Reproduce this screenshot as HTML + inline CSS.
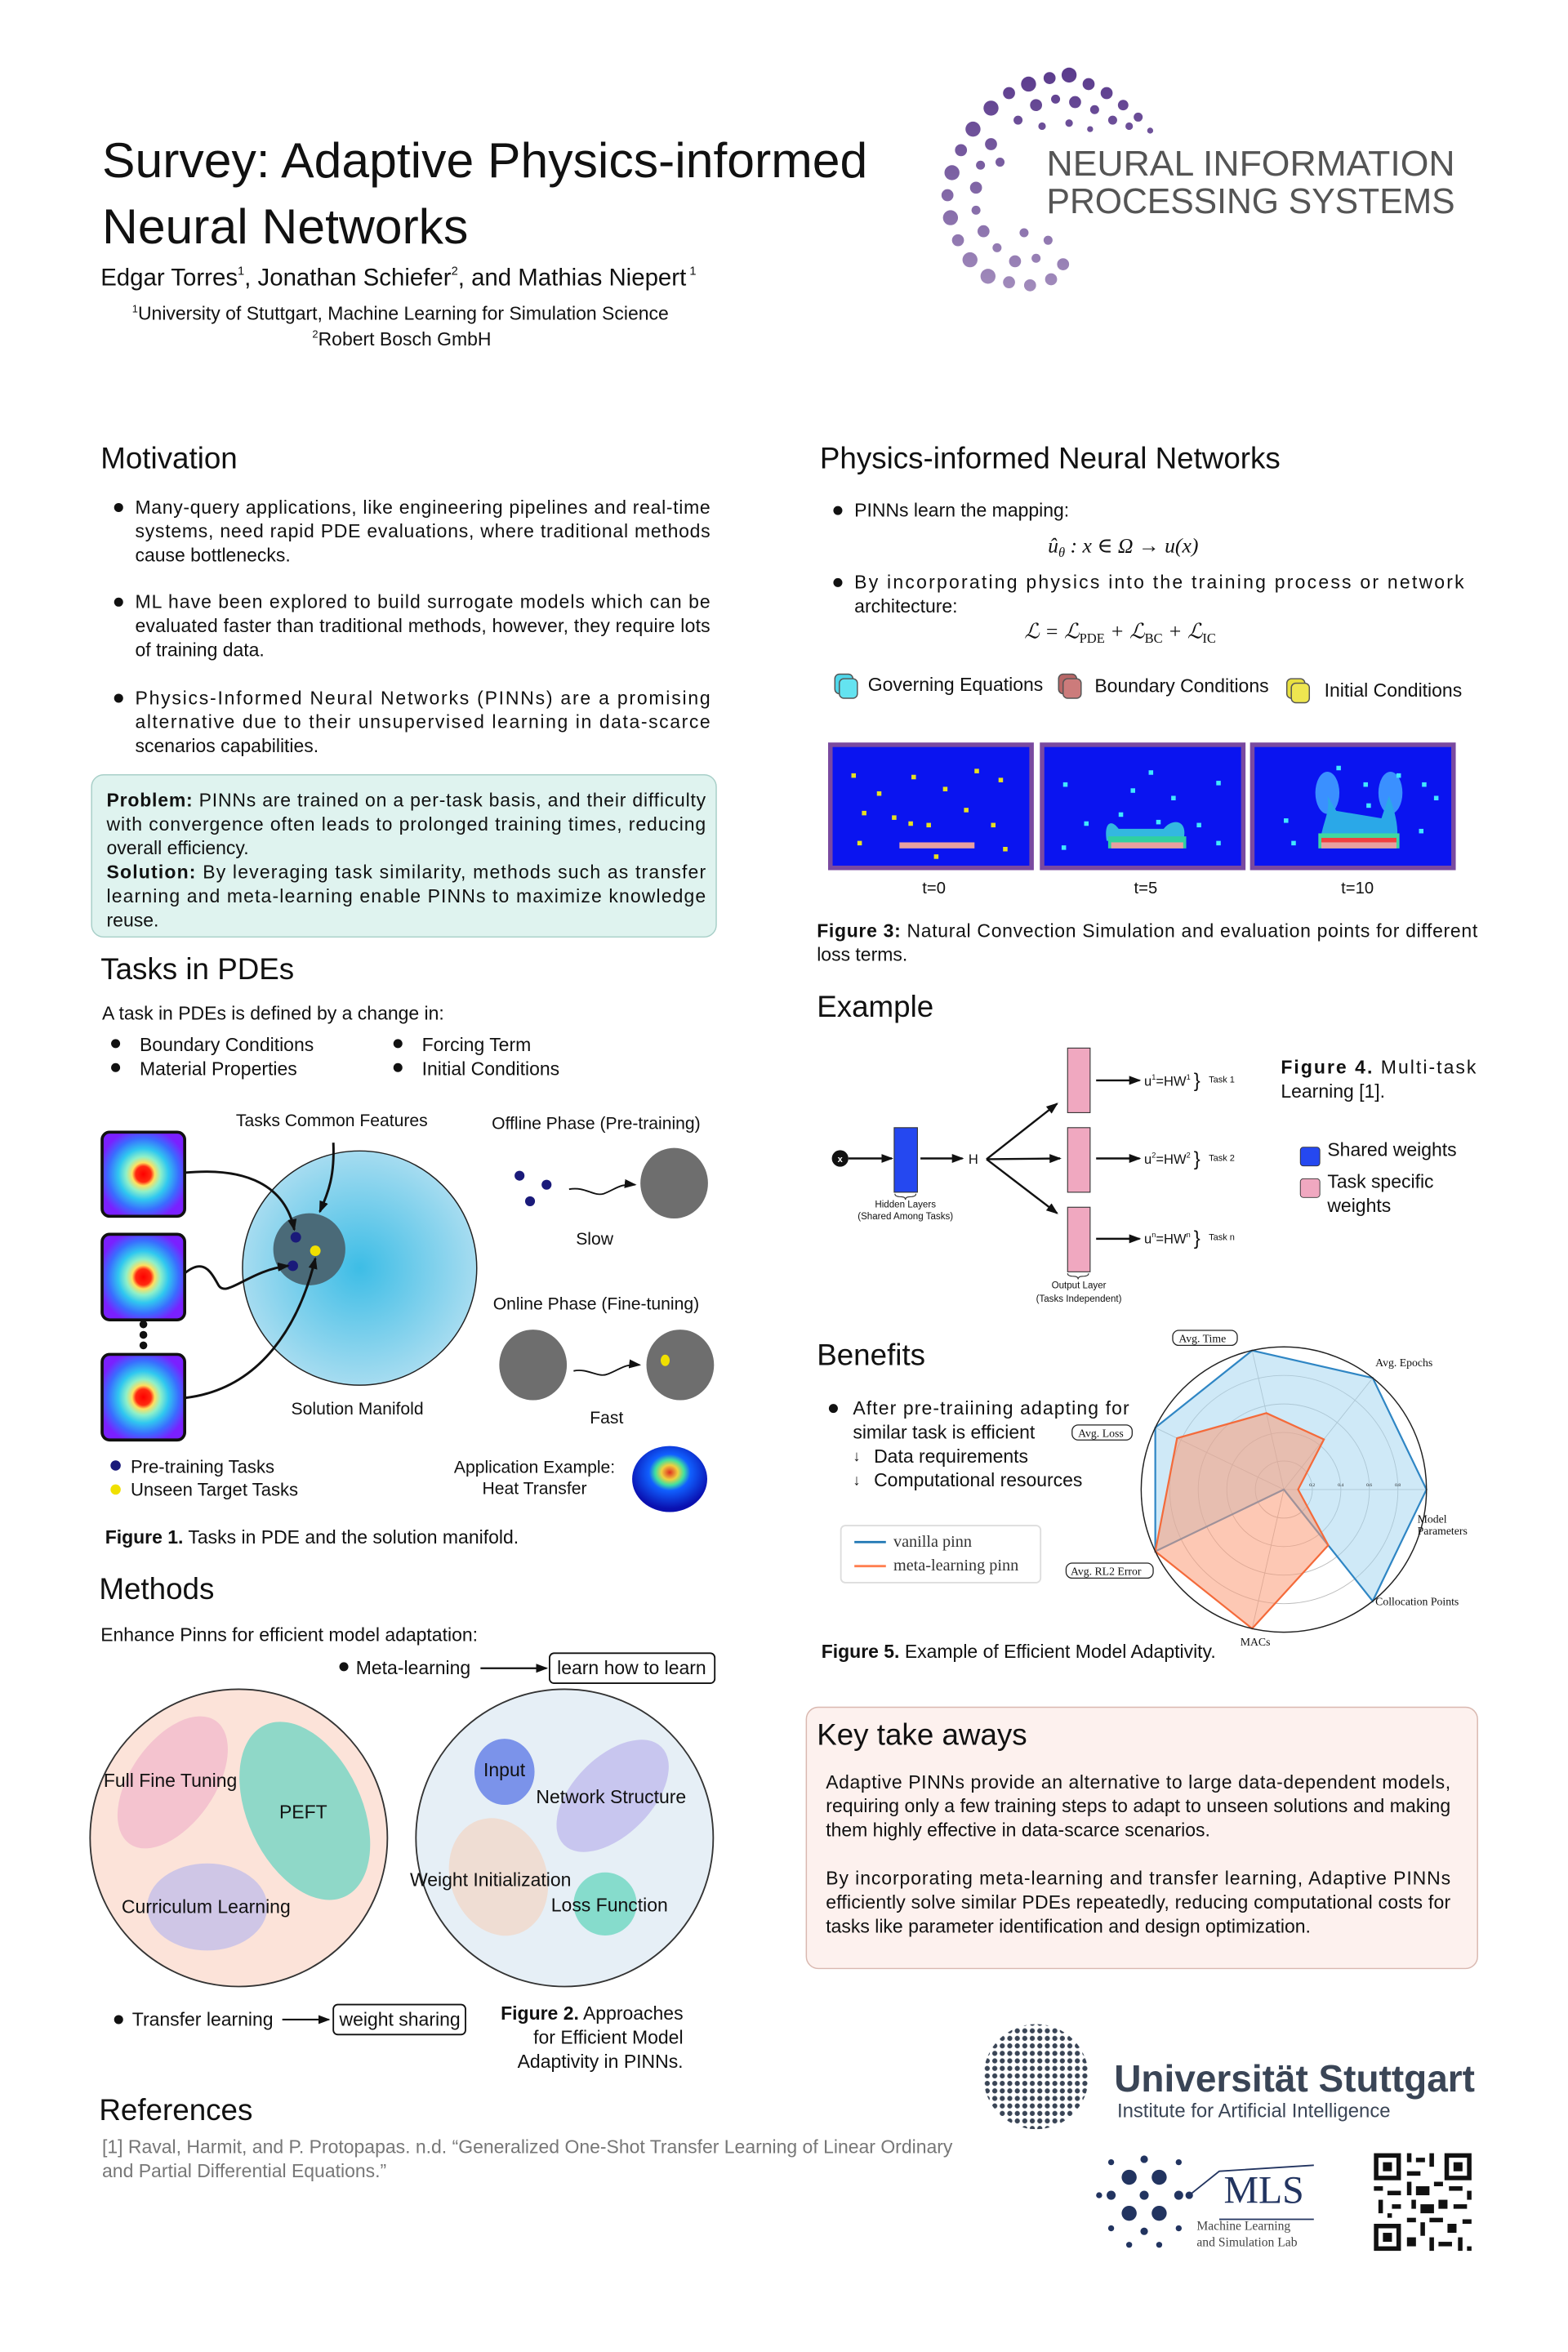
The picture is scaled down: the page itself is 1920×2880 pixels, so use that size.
<!DOCTYPE html>
<html><head><meta charset="utf-8"><style>
html,body{margin:0;padding:0;background:#fff}
svg{display:block}
text{font-family:"Liberation Sans",Arial,sans-serif;fill:#111}
.s{font-family:"Liberation Serif","DejaVu Serif",serif}
</style></head><body>
<svg width="1920" height="2880" viewBox="0 0 1050 1575" preserveAspectRatio="none" xmlns="http://www.w3.org/2000/svg">
<defs>
<radialGradient id="heat" cx="50%" cy="50%" r="55%">
<stop offset="0" stop-color="#ff0000"/><stop offset="0.17" stop-color="#ff2a10"/><stop offset="0.25" stop-color="#ffe060"/><stop offset="0.38" stop-color="#8ff0c8"/><stop offset="0.55" stop-color="#30c8f0"/><stop offset="0.78" stop-color="#3a6cff"/><stop offset="1" stop-color="#7a20ff"/>
</radialGradient>
<radialGradient id="man" cx="50%" cy="50%" r="50%">
<stop offset="0" stop-color="#3dbde6"/><stop offset="1" stop-color="#a6dcf0"/>
</radialGradient>
<radialGradient id="blob" cx="50%" cy="40%" r="55%">
<stop offset="0" stop-color="#e03020"/><stop offset="0.2" stop-color="#f0d040"/><stop offset="0.35" stop-color="#40e0a0"/><stop offset="0.5" stop-color="#1060ff"/><stop offset="1" stop-color="#0a10b0"/>
</radialGradient>
<linearGradient id="ng" x1="0" y1="45" x2="0" y2="195" gradientUnits="userSpaceOnUse">
<stop offset="0" stop-color="#5a3a8c"/><stop offset="1" stop-color="#a28cbc"/>
</linearGradient>
<pattern id="udots" x="0" y="0" width="5" height="5" patternUnits="userSpaceOnUse">
<circle cx="2.5" cy="2.5" r="1.7" fill="#3a4556"/>
</pattern>
<marker id="ah" markerWidth="8" markerHeight="8" refX="7" refY="4" orient="auto" markerUnits="userSpaceOnUse"><path d="M0,1 L8,4 L0,7 z" fill="#111"/></marker>
</defs>
<g transform="scale(1.0055)">
<!-- Title -->
<text x="68" y="118" font-size="33">Survey: Adaptive Physics-informed</text>
<text x="68" y="162" font-size="33">Neural Networks</text>
<text x="67" y="190" font-size="16">Edgar Torres<tspan font-size="8" dy="-7">1</tspan><tspan dy="7">, Jonathan Schiefer</tspan><tspan font-size="8" dy="-7">2</tspan><tspan dy="7">, and Mathias Niepert</tspan><tspan font-size="8" dy="-7"> 1</tspan></text>
<text x="88" y="213" font-size="12.5"><tspan font-size="7" dy="-5">1</tspan><tspan dy="5">University of Stuttgart, Machine Learning for Simulation Science</tspan></text>
<text x="208" y="230" font-size="12.5"><tspan font-size="7" dy="-5">2</tspan><tspan dy="5">Robert Bosch GmbH</tspan></text>

<!-- NeurIPS logo -->
<g fill="url(#ng)">
<circle cx="660" cy="72" r="5"/><circle cx="672" cy="62" r="4"/><circle cx="685" cy="56" r="5"/><circle cx="699" cy="52" r="4"/><circle cx="712" cy="50" r="5"/><circle cx="725" cy="56" r="4"/><circle cx="737" cy="62" r="4"/><circle cx="748" cy="70" r="3.5"/><circle cx="758" cy="78" r="3"/><circle cx="766" cy="87" r="2"/>
<circle cx="690" cy="70" r="4"/><circle cx="703" cy="66" r="3"/><circle cx="716" cy="68" r="4"/><circle cx="729" cy="73" r="3"/><circle cx="741" cy="80" r="3"/><circle cx="752" cy="84" r="2.5"/><circle cx="678" cy="80" r="3"/><circle cx="694" cy="84" r="2.5"/><circle cx="712" cy="82" r="2.5"/><circle cx="726" cy="86" r="2"/>
<circle cx="648" cy="86" r="5"/><circle cx="640" cy="100" r="4"/><circle cx="634" cy="115" r="5"/><circle cx="631" cy="130" r="4"/><circle cx="633" cy="145" r="5"/><circle cx="638" cy="160" r="4"/><circle cx="646" cy="173" r="5"/>
<circle cx="660" cy="96" r="4"/><circle cx="653" cy="110" r="3"/><circle cx="650" cy="125" r="4"/><circle cx="650" cy="140" r="3"/><circle cx="655" cy="154" r="4"/><circle cx="666" cy="108" r="3"/><circle cx="664" cy="165" r="3"/>
<circle cx="658" cy="184" r="5"/><circle cx="672" cy="188" r="4"/><circle cx="686" cy="190" r="4"/><circle cx="700" cy="186" r="4"/><circle cx="708" cy="176" r="4"/><circle cx="676" cy="174" r="4"/><circle cx="690" cy="172" r="3"/><circle cx="698" cy="160" r="3"/><circle cx="682" cy="155" r="3"/>
</g>
<text x="697" y="117" font-size="23.5" textLength="272" lengthAdjust="spacingAndGlyphs" style="fill:#555">NEURAL INFORMATION</text>
<text x="697" y="142" font-size="23.5" textLength="272" lengthAdjust="spacingAndGlyphs" style="fill:#555">PROCESSING SYSTEMS</text>

<!-- Motivation -->
<text x="67" y="312" font-size="20">Motivation</text>
<g font-size="12.5">
<circle cx="79" cy="338" r="3" fill="#111"/>
<text x="90" y="342" textLength="383" lengthAdjust="spacing">Many-query applications, like engineering pipelines and real-time</text>
<text x="90" y="358" textLength="383" lengthAdjust="spacing">systems, need rapid PDE evaluations, where traditional methods</text>
<text x="90" y="374">cause bottlenecks.</text>
<circle cx="79" cy="401" r="3" fill="#111"/>
<text x="90" y="405" textLength="383" lengthAdjust="spacing">ML have been explored to build surrogate models which can be</text>
<text x="90" y="421" textLength="383" lengthAdjust="spacing">evaluated faster than traditional methods, however, they require lots</text>
<text x="90" y="437">of training data.</text>
<circle cx="79" cy="465" r="3" fill="#111"/>
<text x="90" y="469" textLength="383" lengthAdjust="spacing">Physics-Informed Neural Networks (PINNs) are a promising</text>
<text x="90" y="485" textLength="383" lengthAdjust="spacing">alternative due to their unsupervised learning in data-scarce</text>
<text x="90" y="501">scenarios capabilities.</text>
</g>
<rect x="61" y="516" width="416" height="108" rx="8" fill="#dff3ef" stroke="#a8cfc8" stroke-width="0.8"/>
<g font-size="12.5">
<text x="71" y="537" textLength="399" lengthAdjust="spacing"><tspan font-weight="bold">Problem:</tspan> PINNs are trained on a per-task basis, and their difficulty</text>
<text x="71" y="553" textLength="399" lengthAdjust="spacing">with convergence often leads to prolonged training times, reducing</text>
<text x="71" y="569">overall efficiency.</text>
<text x="71" y="585" textLength="399" lengthAdjust="spacing"><tspan font-weight="bold">Solution:</tspan> By leveraging task similarity, methods such as transfer</text>
<text x="71" y="601" textLength="399" lengthAdjust="spacing">learning and meta-learning enable PINNs to maximize knowledge</text>
<text x="71" y="617">reuse.</text>
</g>

<!-- Tasks in PDEs -->
<text x="67" y="652" font-size="20">Tasks in PDEs</text>
<g font-size="12.5">
<text x="68" y="679">A task in PDEs is defined by a change in:</text>
<circle cx="77" cy="695" r="3" fill="#111"/><text x="93" y="700">Boundary Conditions</text>
<circle cx="77" cy="711" r="3" fill="#111"/><text x="93" y="716">Material Properties</text>
<circle cx="265" cy="695" r="3" fill="#111"/><text x="281" y="700">Forcing Term</text>
<circle cx="265" cy="711" r="3" fill="#111"/><text x="281" y="716">Initial Conditions</text>
</g>

<!-- Figure 1 -->
<rect x="68" y="754" width="55" height="56" rx="5" fill="url(#heat)" stroke="#111" stroke-width="2"/>
<rect x="68" y="822" width="55" height="57" rx="5" fill="url(#heat)" stroke="#111" stroke-width="2"/>
<rect x="68" y="902" width="55" height="57" rx="5" fill="url(#heat)" stroke="#111" stroke-width="2"/>
<circle cx="95.5" cy="882" r="2.6" fill="#111"/><circle cx="95.5" cy="889" r="2.6" fill="#111"/><circle cx="95.5" cy="896" r="2.6" fill="#111"/>
<ellipse cx="239.5" cy="844.5" rx="78" ry="78" fill="url(#man)" stroke="#222" stroke-width="0.8"/>
<circle cx="206" cy="832" r="24" fill="#4a6a78"/>
<circle cx="197" cy="824" r="3.5" fill="#1a1a7a"/>
<circle cx="195" cy="843" r="3.5" fill="#1a1a7a"/>
<circle cx="210" cy="833" r="3.5" fill="#f0e000"/>
<g fill="none" stroke="#111" stroke-width="1.6" marker-end="url(#ah)">
<path d="M123,781 C165,777 190,790 196,819"/>
<path d="M123,848 C135,838 140,846 145,855 C150,866 165,846 192,843"/>
<path d="M123,931 C175,925 200,880 210,838"/>
<path d="M222,761 C223,785 218,795 213,807"/>
</g>
<g font-size="11.5" text-anchor="middle">
<text x="221" y="750">Tasks Common Features</text>
<text x="397" y="752">Offline Phase (Pre-training)</text>
<text x="397" y="872">Online Phase (Fine-tuning)</text>
<text x="396" y="829">Slow</text>
<text x="404" y="948">Fast</text>
<text x="238" y="942">Solution Manifold</text>
<text x="356" y="981">Application Example:</text>
<text x="356" y="995">Heat Transfer</text>
</g>
<circle cx="346" cy="783" r="3.3" fill="#1a1a7a"/><circle cx="364" cy="789" r="3.3" fill="#1a1a7a"/><circle cx="353" cy="800" r="3.3" fill="#1a1a7a"/>
<ellipse cx="449" cy="788" rx="22.5" ry="23.5" fill="#6e6e6e"/>
<path d="M379,792 C390,790 395,797 402,795 C410,792 413,788 423,789" fill="none" stroke="#111" stroke-width="1" marker-end="url(#ah)"/>
<ellipse cx="355" cy="909" rx="22.5" ry="23.5" fill="#6e6e6e"/>
<ellipse cx="453" cy="909" rx="22.5" ry="23.5" fill="#6e6e6e"/>
<ellipse cx="443" cy="906" rx="3" ry="3.8" fill="#f0e000"/>
<path d="M382,913 C392,911 398,918 405,915 C413,912 416,908 426,909" fill="none" stroke="#111" stroke-width="1" marker-end="url(#ah)"/>
<ellipse cx="446" cy="985" rx="25" ry="22" fill="url(#blob)"/>
<circle cx="77" cy="976" r="3.4" fill="#1a1a7a"/><circle cx="77" cy="992" r="3.4" fill="#f0e000"/>
<text x="87" y="981" font-size="12">Pre-training Tasks</text>
<text x="87" y="996" font-size="12">Unseen Target Tasks</text>
<text x="70" y="1028" font-size="12.5"><tspan font-weight="bold">Figure 1.</tspan> Tasks in PDE and the solution manifold.</text>

<!-- Methods -->
<text x="66" y="1065" font-size="20">Methods</text>
<text x="67" y="1093" font-size="12.5">Enhance Pinns for efficient model adaptation:</text>
<circle cx="229" cy="1110" r="3" fill="#111"/>
<text x="237" y="1115" font-size="12.5">Meta-learning</text>
<line x1="320" y1="1111" x2="364" y2="1111" stroke="#111" stroke-width="1.2" marker-end="url(#ah)"/>
<rect x="366" y="1101" width="110" height="20" rx="3" fill="#fff" stroke="#111" stroke-width="1"/>
<text x="371" y="1115" font-size="12.5">learn how to learn</text>

<circle cx="159" cy="1224" r="99" fill="#fce3d9" stroke="#333" stroke-width="1"/>
<ellipse cx="115" cy="1187" rx="28" ry="50" transform="rotate(35 115 1187)" fill="#f4c3cf"/>
<ellipse cx="203" cy="1206" rx="38" ry="63" transform="rotate(-25 203 1206)" fill="#8fd8c8"/>
<ellipse cx="138" cy="1270" rx="40" ry="29" fill="#cfc6e6"/>
<g font-size="12.5">
<text x="69" y="1190">Full Fine Tuning</text>
<text x="186" y="1211">PEFT</text>
<text x="81" y="1274">Curriculum Learning</text>
</g>
<circle cx="376" cy="1224" r="99" fill="#e6eff6" stroke="#333" stroke-width="1"/>
<ellipse cx="408" cy="1196" rx="26" ry="46" transform="rotate(45 408 1196)" fill="#c8c6ef"/>
<ellipse cx="332" cy="1250" rx="32" ry="40" transform="rotate(-20 332 1250)" fill="#efddd3"/>
<circle cx="403" cy="1268" r="21" fill="#86dccc"/>
<ellipse cx="336" cy="1180" rx="20" ry="22" fill="#7b93ea"/>
<g font-size="12.5">
<text x="322" y="1183">Input</text>
<text x="357" y="1201">Network Structure</text>
<text x="273" y="1256">Weight Initialization</text>
<text x="367" y="1273">Loss Function</text>
</g>
<circle cx="79" cy="1345" r="3" fill="#111"/>
<text x="88" y="1349" font-size="12.5">Transfer learning</text>
<line x1="188" y1="1345" x2="219" y2="1345" stroke="#111" stroke-width="1.2" marker-end="url(#ah)"/>
<rect x="222" y="1335" width="88" height="20" rx="3" fill="#fff" stroke="#111" stroke-width="1"/>
<text x="226" y="1349" font-size="12.5">weight sharing</text>
<g font-size="12.5" text-anchor="end">
<text x="455" y="1345"><tspan font-weight="bold">Figure 2.</tspan> Approaches</text>
<text x="455" y="1361">for Efficient Model</text>
<text x="455" y="1377">Adaptivity in PINNs.</text>
</g>

<!-- References -->
<text x="66" y="1412" font-size="20">References</text>
<text x="68" y="1434" font-size="12.5" style="fill:#777">[1] Raval, Harmit, and P. Protopapas. n.d. “Generalized One-Shot Transfer Learning of Linear Ordinary</text>
<text x="68" y="1450" font-size="12.5" style="fill:#777">and Partial Differential Equations.”</text>

<!-- Uni Stuttgart -->
<circle cx="690" cy="1383" r="35" fill="url(#udots)"/>
<text x="742" y="1393" font-size="25" font-weight="bold" style="fill:#3a4556">Universität Stuttgart</text>
<text x="744" y="1410" font-size="13" style="fill:#3a4556">Institute for Artificial Intelligence</text>
<!-- MLS -->
<g fill="#223460">
<circle cx="752" cy="1450" r="5"/><circle cx="772" cy="1450" r="5"/><circle cx="752" cy="1474" r="5"/><circle cx="772" cy="1474" r="5"/>
<circle cx="762" cy="1438" r="2.5"/><circle cx="762" cy="1462" r="3"/><circle cx="762" cy="1486" r="2.5"/>
<circle cx="740" cy="1440" r="2"/><circle cx="785" cy="1440" r="2"/><circle cx="740" cy="1462" r="3"/><circle cx="785" cy="1462" r="3"/>
<circle cx="740" cy="1484" r="2"/><circle cx="785" cy="1484" r="2"/><circle cx="732" cy="1462" r="2"/><circle cx="752" cy="1495" r="2"/><circle cx="772" cy="1495" r="2"/><circle cx="792" cy="1462" r="2.5"/>
</g>
<path d="M792,1462 L812,1446 L875,1442 M812,1478 L875,1478" stroke="#223460" stroke-width="1" fill="none"/>
<text x="815" y="1467" class="s" font-size="26" style="fill:#223460">MLS</text>
<text x="797" y="1485" class="s" font-size="8.5" style="fill:#444">Machine Learning</text>
<text x="797" y="1496" class="s" font-size="8.5" style="fill:#444">and Simulation Lab</text>
<!-- QR -->
<g fill="#111">
<rect x="915" y="1434" width="18" height="18"/><rect x="918" y="1437" width="12" height="12" fill="#fff"/><rect x="921" y="1440" width="6" height="6"/>
<rect x="962" y="1434" width="18" height="18"/><rect x="965" y="1437" width="12" height="12" fill="#fff"/><rect x="968" y="1440" width="6" height="6"/>
<rect x="915" y="1481" width="18" height="18"/><rect x="918" y="1484" width="12" height="12" fill="#fff"/><rect x="921" y="1487" width="6" height="6"/>
<rect x="937" y="1434" width="3" height="6"/><rect x="943" y="1437" width="6" height="3"/><rect x="952" y="1434" width="3" height="9"/><rect x="937" y="1446" width="9" height="3"/>
<rect x="915" y="1456" width="6" height="3"/><rect x="924" y="1459" width="9" height="3"/><rect x="937" y="1453" width="3" height="9"/><rect x="943" y="1456" width="9" height="6"/>
<rect x="955" y="1453" width="6" height="3"/><rect x="965" y="1456" width="9" height="3"/><rect x="977" y="1459" width="3" height="6"/><rect x="918" y="1465" width="3" height="9"/>
<rect x="927" y="1468" width="6" height="3"/><rect x="940" y="1465" width="3" height="6"/><rect x="946" y="1468" width="9" height="6"/><rect x="958" y="1465" width="6" height="6"/>
<rect x="968" y="1468" width="9" height="3"/><rect x="937" y="1477" width="6" height="3"/><rect x="946" y="1480" width="3" height="9"/><rect x="952" y="1477" width="9" height="3"/>
<rect x="964" y="1481" width="6" height="6"/><rect x="974" y="1478" width="6" height="3"/><rect x="937" y="1490" width="6" height="6"/><rect x="952" y="1490" width="3" height="9"/>
<rect x="958" y="1493" width="9" height="3"/><rect x="971" y="1490" width="3" height="9"/><rect x="977" y="1496" width="3" height="3"/><rect x="924" y="1474" width="3" height="3"/>
</g>

<!-- PINNs section -->
<text x="546" y="312" font-size="20">Physics-informed Neural Networks</text>
<g font-size="12.5">
<circle cx="558" cy="340" r="3" fill="#111"/>
<text x="569" y="344">PINNs learn the mapping:</text>
<circle cx="558" cy="388" r="3" fill="#111"/>
<text x="569" y="392" textLength="406" lengthAdjust="spacing">By incorporating physics into the training process or network</text>
<text x="569" y="408">architecture:</text>
</g>
<text x="748" y="368" class="s" font-size="14" font-style="italic" text-anchor="middle">û<tspan font-size="9" dy="3">θ</tspan><tspan dy="-3"> : x ∈ Ω → u(x)</tspan></text>
<text x="746" y="425" class="s" font-size="14" font-style="italic" text-anchor="middle">ℒ = ℒ<tspan font-size="9" dy="3" font-style="normal">PDE</tspan><tspan dy="-3"> + ℒ</tspan><tspan font-size="9" dy="3" font-style="normal">BC</tspan><tspan dy="-3"> + ℒ</tspan><tspan font-size="9" dy="3" font-style="normal">IC</tspan></text>
<rect x="556" y="449" width="12" height="13" rx="3" fill="#4fd7ea" stroke="#555" stroke-width="0.8"/><rect x="559" y="452" width="12" height="13" rx="3" fill="#64e3f0" stroke="#555" stroke-width="0.8"/>
<rect x="705" y="449" width="12" height="13" rx="3" fill="#b76666" stroke="#555" stroke-width="0.8"/><rect x="708" y="452" width="12" height="13" rx="3" fill="#cc7b7b" stroke="#555" stroke-width="0.8"/>
<rect x="857" y="452" width="12" height="13" rx="3" fill="#e8e040" stroke="#555" stroke-width="0.8"/><rect x="860" y="455" width="12" height="13" rx="3" fill="#eee650" stroke="#555" stroke-width="0.8"/>
<g font-size="12.5">
<text x="578" y="460">Governing Equations</text>
<text x="729" y="461">Boundary Conditions</text>
<text x="882" y="464">Initial Conditions</text>
</g>
<!-- sim images -->
<g>
<rect x="553" y="496" width="134" height="82" fill="#0a14f0" stroke="#7a4aa0" stroke-width="3"/>
<rect x="694" y="496" width="134" height="82" fill="#0a14f0" stroke="#7a4aa0" stroke-width="3"/>
<rect x="834" y="496" width="134" height="82" fill="#0a14f0" stroke="#7a4aa0" stroke-width="3"/>
<rect x="599" y="561" width="50" height="4" fill="#e8a0a0"/>
<path d="M737,560 C735,548 740,545 745,552 L775,552 C780,545 792,545 788,560 Z" fill="#33b8e0"/>
<rect x="738" y="557" width="52" height="8" fill="#30d0a0"/><rect x="740" y="561" width="48" height="4" fill="#e8a0a0"/>
<ellipse cx="884" cy="528" rx="8" ry="14" fill="#3a90ff"/><ellipse cx="926" cy="528" rx="8" ry="14" fill="#3a90ff"/>
<path d="M879,560 C882,545 886,540 884,530 L890,540 L920,545 L925,530 C929,540 932,552 930,560 Z" fill="#2aa8e8"/>
<rect x="878" y="555" width="54" height="10" fill="#40d8a0"/><rect x="880" y="558" width="50" height="3" fill="#f04040"/><rect x="880" y="561" width="50" height="4" fill="#e8a0a0"/>
<g fill="#e8e020">
<rect x="567" y="515" width="3" height="3"/><rect x="584" y="527" width="3" height="3"/><rect x="607" y="516" width="3" height="3"/><rect x="628" y="524" width="3" height="3"/><rect x="649" y="512" width="3" height="3"/><rect x="665" y="518" width="3" height="3"/>
<rect x="574" y="540" width="3" height="3"/><rect x="594" y="543" width="3" height="3"/><rect x="605" y="547" width="3" height="3"/><rect x="617" y="548" width="3" height="3"/><rect x="642" y="538" width="3" height="3"/><rect x="660" y="548" width="3" height="3"/><rect x="571" y="560" width="3" height="3"/><rect x="622" y="569" width="3" height="3"/><rect x="668" y="564" width="3" height="3"/>
</g>
<g fill="#40e8ff">
<rect x="708" y="521" width="3" height="3"/><rect x="722" y="547" width="3" height="3"/><rect x="745" y="541" width="3" height="3"/><rect x="753" y="525" width="3" height="3"/><rect x="765" y="513" width="3" height="3"/><rect x="770" y="546" width="3" height="3"/><rect x="797" y="548" width="3" height="3"/><rect x="810" y="560" width="3" height="3"/><rect x="810" y="520" width="3" height="3"/><rect x="707" y="563" width="3" height="3"/><rect x="780" y="530" width="3" height="3"/>
<rect x="890" y="510" width="3" height="3"/><rect x="908" y="521" width="3" height="3"/><rect x="910" y="535" width="3" height="3"/><rect x="947" y="521" width="3" height="3"/><rect x="955" y="530" width="3" height="3"/><rect x="945" y="552" width="3" height="3"/><rect x="855" y="545" width="3" height="3"/><rect x="860" y="560" width="3" height="3"/><rect x="930" y="515" width="3" height="3"/>
</g>
</g>
<g font-size="11" text-anchor="middle">
<text x="622" y="595">t=0</text><text x="763" y="595">t=5</text><text x="904" y="595">t=10</text>
</g>
<text x="544" y="624" font-size="12.5" textLength="440" lengthAdjust="spacing"><tspan font-weight="bold">Figure 3:</tspan> Natural Convection Simulation and evaluation points for different</text>
<text x="544" y="640" font-size="12.5">loss terms.</text>

<!-- Example -->
<text x="544" y="677" font-size="20">Example</text>
<circle cx="559.5" cy="771.5" r="5.5" fill="#111"/>
<text x="559.5" y="774" font-size="6" text-anchor="middle" style="fill:#fff" font-weight="bold">x</text>
<rect x="595.5" y="751" width="15.5" height="43" fill="#2548f0" stroke="#333" stroke-width="0.6"/>
<rect x="711" y="698" width="15" height="43" fill="#f0a8c0" stroke="#333" stroke-width="0.6"/>
<rect x="711" y="751" width="15" height="43" fill="#f0a8c0" stroke="#333" stroke-width="0.6"/>
<rect x="711" y="804" width="15" height="43" fill="#f0a8c0" stroke="#333" stroke-width="0.6"/>
<g stroke="#111" stroke-width="1.3" marker-end="url(#ah)">
<line x1="565" y1="771.5" x2="594" y2="771.5"/>
<line x1="613" y1="771.5" x2="641" y2="771.5"/>
<line x1="657" y1="772" x2="704" y2="735"/>
<line x1="657" y1="772" x2="706" y2="771.5"/>
<line x1="657" y1="772" x2="704" y2="808"/>
<line x1="730" y1="719.5" x2="759" y2="719.5"/>
<line x1="730" y1="771.5" x2="759" y2="771.5"/>
<line x1="730" y1="825" x2="759" y2="825"/>
</g>
<text x="645" y="775" font-size="9">H</text>
<g font-size="9">
<text x="762" y="723">u<tspan font-size="5" dy="-4">1</tspan><tspan dy="4">=HW</tspan><tspan font-size="5" dy="-4">1</tspan></text>
<text x="762" y="775">u<tspan font-size="5" dy="-4">2</tspan><tspan dy="4">=HW</tspan><tspan font-size="5" dy="-4">2</tspan></text>
<text x="762" y="828">u<tspan font-size="5" dy="-4">n</tspan><tspan dy="4">=HW</tspan><tspan font-size="5" dy="-4">n</tspan></text>
</g>
<g font-size="13" style="fill:#333"><text x="795" y="724">}</text><text x="795" y="776">}</text><text x="795" y="829">}</text></g>
<g font-size="6"><text x="805" y="721">Task 1</text><text x="805" y="773">Task 2</text><text x="805" y="826">Task n</text></g>
<path d="M596,795 q0,2 4,2 q3,0 3,2 q0,-2 3,-2 q4,0 4,-2" fill="none" stroke="#333" stroke-width="0.6"/>
<path d="M711,848 q0,2 4,2 q3,0 3,2 q0,-2 3,-2 q4,0 4,-2" fill="none" stroke="#333" stroke-width="0.6"/>
<g font-size="6.3" text-anchor="middle">
<text x="603" y="804">Hidden Layers</text><text x="603" y="812">(Shared Among Tasks)</text>
<text x="718.5" y="858">Output Layer</text><text x="718.5" y="867">(Tasks Independent)</text>
</g>
<text x="853" y="715" font-size="12.5" textLength="130" lengthAdjust="spacing"><tspan font-weight="bold">Figure 4.</tspan> Multi-task</text>
<text x="853" y="731" font-size="12.5">Learning [1].</text>
<rect x="866" y="764" width="13" height="12.5" rx="2" fill="#2548f0" stroke="#333" stroke-width="0.5"/>
<rect x="866" y="785" width="13" height="12.5" rx="2" fill="#f0a8c0" stroke="#333" stroke-width="0.5"/>
<g font-size="12.5"><text x="884" y="770">Shared weights</text><text x="884" y="791">Task specific</text><text x="884" y="807">weights</text></g>

<!-- Benefits -->
<text x="544" y="909" font-size="20">Benefits</text>
<g font-size="12.5">
<circle cx="555" cy="938" r="3" fill="#111"/>
<text x="568" y="942" textLength="184" lengthAdjust="spacing">After pre-traiining adapting for</text>
<text x="568" y="958">similar task is efficient</text>
<text x="582" y="974">Data requirements</text>
<text x="582" y="990">Computational resources</text>
</g>
<g font-size="10"><text x="568" y="973">↓</text><text x="568" y="989">↓</text></g>
<rect x="560" y="1016" width="133" height="38" rx="3" fill="#fff" stroke="#ddd" stroke-width="1"/>
<line x1="569" y1="1027" x2="590" y2="1027" stroke="#1f77b4" stroke-width="1.5"/>
<line x1="569" y1="1043" x2="590" y2="1043" stroke="#ff7f50" stroke-width="1.5"/>
<text x="595" y="1030" class="s" font-size="11" style="fill:#333">vanilla pinn</text>
<text x="595" y="1046" class="s" font-size="11" style="fill:#333">meta-learning pinn</text>
<!-- radar -->
<g fill="none" stroke="#bbb" stroke-width="0.5">
<circle cx="855" cy="992" r="19"/><circle cx="855" cy="992" r="38"/><circle cx="855" cy="992" r="57"/><circle cx="855" cy="992" r="76"/>
<line x1="855" y1="992" x2="950" y2="992"/><line x1="855" y1="992" x2="914.2" y2="917.7"/><line x1="855" y1="992" x2="833.9" y2="899.4"/><line x1="855" y1="992" x2="769.4" y2="950.8"/><line x1="855" y1="992" x2="769.4" y2="1033.2"/><line x1="855" y1="992" x2="833.9" y2="1084.6"/><line x1="855" y1="992" x2="914.2" y2="1066.3"/>
</g>
<polygon points="950,992 914.2,917.7 833.9,899.4 769.4,950.8 769.4,1033.2 855,992 914.2,1066.3" fill="#9fd3ef" fill-opacity="0.5" stroke="#2f86c4" stroke-width="1.2"/>
<polygon points="864.5,992 881.7,958.6 843.4,941.1 783.9,957.8 769.4,1033.2 833.9,1084.6 884.6,1029.1" fill="#fb9a76" fill-opacity="0.55" stroke="#f46a3a" stroke-width="1.2"/>
<circle cx="855" cy="992" r="95" fill="none" stroke="#222" stroke-width="0.8"/>
<g class="s" font-size="7.5" style="fill:#333">
<text x="916" y="910" class="s">Avg. Epochs</text>
<text x="944" y="1014" class="s">Model</text><text x="944" y="1022" class="s">Parameters</text>
<text x="916" y="1069" class="s">Collocation Points</text>
<text x="826" y="1096" class="s">MACs</text>
</g>
<g fill="#fff" stroke="#222" stroke-width="0.7">
<rect x="781" y="886" width="43" height="10" rx="4"/>
<rect x="714" y="949" width="40" height="10" rx="4"/>
<rect x="710" y="1041" width="58" height="10" rx="4"/>
</g>
<g class="s" font-size="7.5">
<text x="785" y="894" class="s">Avg. Time</text>
<text x="718" y="957" class="s">Avg. Loss</text>
<text x="713" y="1049" class="s">Avg. RL2 Error</text>
</g>
<g class="s" font-size="3" style="fill:#888"><text x="872" y="990" class="s">0.2</text><text x="891" y="990" class="s">0.4</text><text x="910" y="990" class="s">0.6</text><text x="929" y="990" class="s">0.8</text></g>
<text x="547" y="1104" font-size="12.5"><tspan font-weight="bold">Figure 5.</tspan> Example of Efficient Model Adaptivity.</text>

<!-- Key take aways -->
<rect x="537" y="1137" width="447" height="174" rx="8" fill="#fdf1ee" stroke="#d9b8b0" stroke-width="0.8"/>
<text x="544" y="1162" font-size="20">Key take aways</text>
<g font-size="12.5">
<text x="550" y="1191" textLength="416" lengthAdjust="spacing">Adaptive PINNs provide an alternative to large data-dependent models,</text>
<text x="550" y="1207" textLength="416" lengthAdjust="spacing">requiring only a few training steps to adapt to unseen solutions and making</text>
<text x="550" y="1223">them highly effective in data-scarce scenarios.</text>
<text x="550" y="1255" textLength="416" lengthAdjust="spacing">By incorporating meta-learning and transfer learning, Adaptive PINNs</text>
<text x="550" y="1271" textLength="416" lengthAdjust="spacing">efficiently solve similar PDEs repeatedly, reducing computational costs for</text>
<text x="550" y="1287">tasks like parameter identification and design optimization.</text>
</g>
</g>
</svg>
</body></html>
